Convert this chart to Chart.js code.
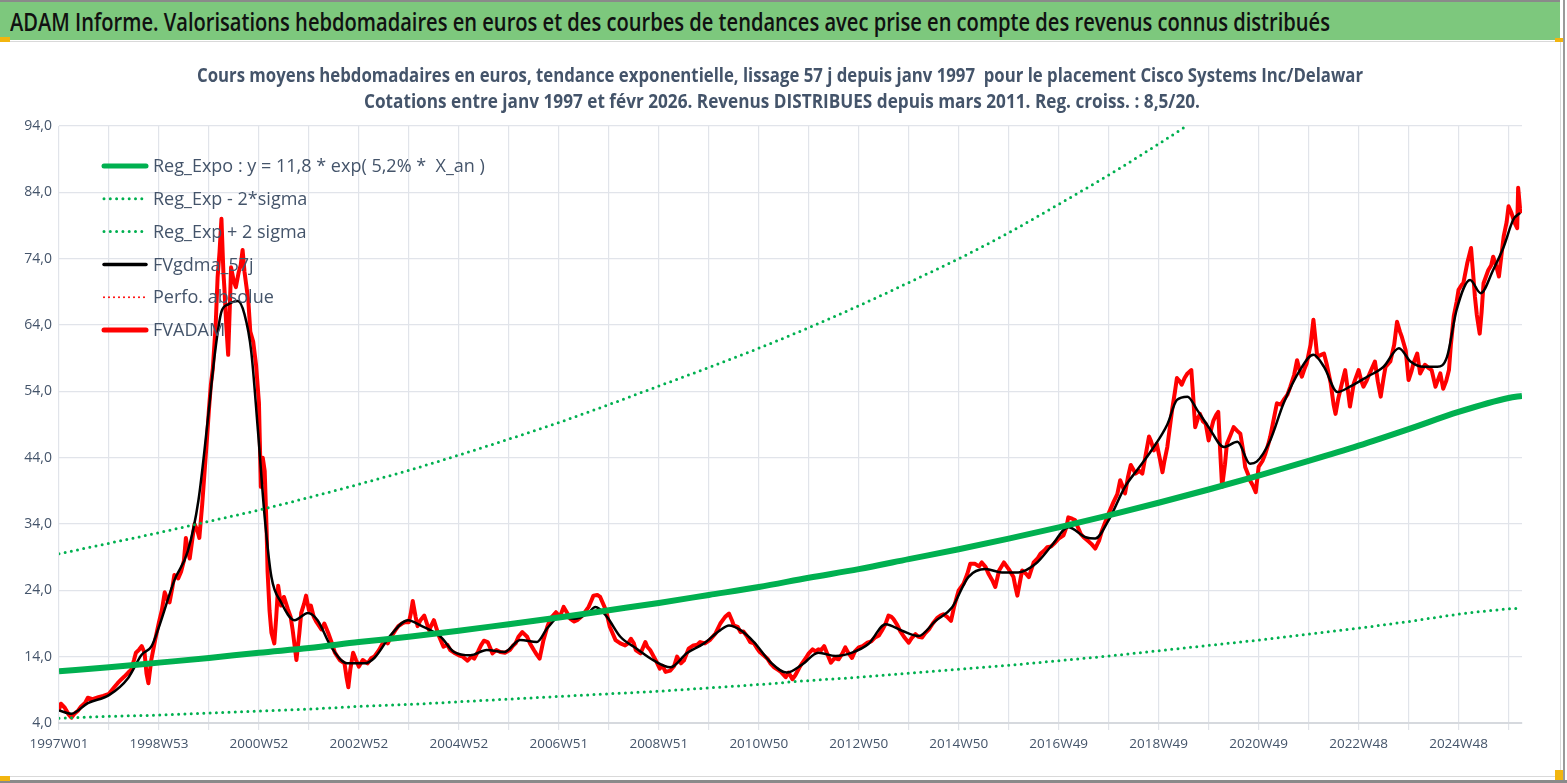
<!DOCTYPE html>
<html>
<head>
<meta charset="utf-8">
<script src="https://cdn.jsdelivr.net/npm/chart.js@4.4.9/dist/chart.umd.min.js"></script>
<style>
  html, body { margin: 0; padding: 0; background: #fff; }
  body { width: 1567px; height: 783px; position: relative; overflow: hidden; }
  #myChart { position: absolute; left: 0; top: 0; }
  .narrow { font-family: "Liberation Sans Narrow", "Open Sans", sans-serif; white-space: nowrap; position: absolute; transform-origin: 0 50%; }
  #header { position: absolute; left: 0; top: 0; width: 1560px; height: 38px; background: #7dc87d; border-top: 2px solid #8a8a8a; }
  #frame { position: absolute; left: 0; top: 41px; width: 1560px; height: 734px; border: 1px solid #d9d9d9; border-left: none; }
  #bottomLine { position: absolute; left: 0; top: 780px; width: 1567px; height: 3px; background: #8a8a8a; }
  #rightLine { position: absolute; left: 1563px; top: 0; width: 2px; height: 783px; background: #9a9a9a; }
  .handle { position: absolute; background: #f2b50f; }
</style>
</head>
<body>
<canvas id="myChart" width="1567" height="783"></canvas>
<div id="frame"></div>
<div id="header"></div>
<div id="rightLine"></div>
<div id="bottomLine"></div>
<div class="handle" style="left:0;top:37px;width:10px;height:5px"></div>
<div class="handle" style="left:1555px;top:38px;width:8px;height:4px"></div>
<div class="handle" style="left:1555px;top:770px;width:8px;height:10px"></div>
<div class="handle" style="left:0;top:776px;width:10px;height:5px"></div>
<div id="mainTitle" class="narrow" style="left:10px;top:4px;font-size:25px;font-weight:600;color:#111">ADAM Informe. Valorisations hebdomadaires en euros et des courbes de tendances avec prise en compte des revenus connus distribués</div>
<div id="sub1" class="narrow" style="left:197px;top:61px;font-size:20px;font-weight:bold;color:#44546a">Cours moyens hebdomadaires en euros, tendance exponentielle, lissage 57 j depuis janv 1997&nbsp; pour le placement Cisco Systems Inc/Delawar</div>
<div id="sub2" class="narrow" style="left:364px;top:87px;font-size:20px;font-weight:bold;color:#44546a">Cotations entre janv 1997 et févr 2026. Revenus DISTRIBUES depuis mars 2011. Reg. croiss. : 8,5/20.</div>
<script>
// tick labels of the category axis, one every 104 weeks
const xTickLabels = ["1997W01", "1998W53", "2000W52", "2002W52", "2004W52", "2006W51", "2008W51", "2010W50", "2012W50", "2014W50", "2016W49", "2018W49", "2020W49", "2022W48", "2024W48"];

// week index (0 = 1997W01) of the trend points, one per year
const trendWeeks = [0, 52, 104, 156, 208, 260, 312, 364, 416, 468, 520, 572, 624, 676, 728, 780, 832, 884, 936, 988, 1040, 1092, 1144, 1196, 1248, 1300, 1352, 1404, 1456, 1508, 1522];

const regExpo = [11.8, 12.4, 13.1, 13.8, 14.6, 15.3, 16.2, 17.0, 17.9, 18.9, 19.9, 21.0, 22.1, 23.3, 24.5, 25.9, 27.2, 28.7, 30.2, 31.8, 33.5, 35.3, 37.2, 39.2, 41.3, 43.5, 45.8, 48.3, 50.9, 53.0, 53.3];
const regExpMinus = [4.7, 5.0, 5.2, 5.5, 5.8, 6.1, 6.5, 6.8, 7.2, 7.6, 8.0, 8.4, 8.8, 9.3, 9.8, 10.4, 10.9, 11.5, 12.1, 12.7, 13.4, 14.1, 14.9, 15.7, 16.5, 17.4, 18.3, 19.3, 20.4, 21.2, 21.3];
const regExpPlus = [29.5, 31.1, 32.7, 34.4, 36.1, 38.0, 40.0, 42.1, 44.4, 46.8, 49.3, 52.0, 54.8, 57.6, 60.5, 63.6, 66.9, 70.4, 74.0, 77.9, 82.2, 86.6, 91.3, 96.2];

// FVgdma_57j : [week, value]
const fvgdma = [[0,5.9],[13,5.4],[30,7.0],[52,8.2],[72,10.8],[86,14.3],[96,15.5],[104,18.5],[120,25.5],[134,29.9],[145,37.5],[155,50.0],[162,59.5],[169,66.0],[176,67.1],[186,67.6],[193,65.6],[200,60.0],[207,48.0],[214,35.0],[221,26.0],[231,22.2],[245,19.5],[259,20.6],[269,19.5],[283,15.5],[300,13.0],[318,13.0],[328,13.8],[346,17.4],[363,19.5],[376,18.7],[397,17.0],[411,14.7],[428,14.2],[445,15.0],[463,14.7],[480,16.5],[497,16.2],[508,18.3],[521,20.0],[536,19.7],[550,20.5],[558,21.5],[570,20.0],[584,17.0],[601,15.2],[619,13.4],[636,12.4],[653,14.5],[671,16.0],[688,18.0],[697,18.7],[709,18.0],[723,16.2],[740,13.2],[757,11.6],[773,12.8],[790,14.6],[808,14.1],[825,14.6],[842,15.9],[860,18.9],[877,17.9],[894,17.1],[912,19.4],[929,21.4],[946,26.0],[964,27.2],[981,26.7],[998,26.7],[1016,28.0],[1033,30.8],[1050,33.5],[1068,32.0],[1078,31.8],[1092,34.6],[1109,39.6],[1123,42.4],[1137,45.2],[1153,49.0],[1163,52.7],[1174,53.2],[1184,51.2],[1196,48.6],[1212,45.6],[1226,46.4],[1239,43.1],[1246,43.4],[1260,46.6],[1274,52.2],[1291,57.2],[1305,59.5],[1316,57.7],[1330,53.9],[1343,54.7],[1361,56.2],[1378,57.7],[1394,60.5],[1406,58.5],[1420,57.7],[1434,57.7],[1444,59.2],[1454,66.3],[1468,70.8],[1479,68.8],[1492,72.3],[1503,75.8],[1513,79.9],[1520,80.9]];

// FVADAM : [week, value]
const fvadam = [
  [0,6.0],[2,6.9],[6,6.3],[10,5.3],[13,4.8],[16,5.4],[20,5.9],[23,6.5],[27,7.0],[30,7.8],[35,7.6],[41,7.9],[46,8.1],[52,8.4],[57,9.3],[61,10.0],[65,10.6],[68,11.0],[72,11.6],[75,12.0],[78,13.5],[80,14.6],[83,15.0],[86,15.6],[89,14.6],[91,11.5],[93,10.0],[96,13.5],[100,16.5],
  [104,19.2],[107,21.0],[110,23.7],[113,22.5],[115,22.2],[118,24.5],[120,26.3],[124,25.8],[127,26.8],[130,28.5],[132,31.9],[134,30.0],[136,28.8],[139,32.0],[141,34.0],[144,33.0],[146,31.9],[149,37.0],[152,43.0],[154,47.0],
  [156,51.3],[158,55.0],[160,57.4],[163,64.0],[165,71.2],[167,75.0],[169,80.0],[171,72.0],[172,69.7],[174,64.0],[176,59.5],[178,68.0],[179,72.7],[182,70.5],[184,69.7],[187,72.0],[189,73.0],[191,75.3],[193,72.0],[197,67.6],[199,63.0],[202,61.5],[205,58.0],
  [208,52.3],[210,39.6],[212,44.0],[214,42.0],[216,33.0],[217,26.8],[219,21.0],[221,17.6],[224,16.0],[226,20.0],[228,24.7],[231,21.7],[234,23.0],[238,21.2],[241,20.0],[243,18.1],[247,13.5],[250,17.5],[252,20.6],[255,22.0],[257,23.2],
  [260,21.0],[262,21.7],[265,20.0],[268,19.2],[273,18.1],[276,19.0],[280,17.6],[284,16.0],[287,14.6],[292,13.5],[297,13.0],[299,11.0],[301,9.4],[303,12.0],[306,14.6],[309,13.5],
  [312,12.5],[316,13.5],[321,13.0],[325,13.8],[328,14.0],[333,15.0],[339,16.6],[342,16.0],[346,17.1],[350,18.0],[353,18.6],[357,19.0],[360,19.2],
  [364,19.2],[366,20.5],[368,22.4],[371,20.0],[373,18.6],[376,19.5],[380,20.2],[385,18.0],[390,19.5],[395,17.2],[400,15.5],[404,15.8],[407,15.0],[411,14.6],
  [416,14.2],[420,14.0],[425,13.4],[429,14.0],[432,13.7],[436,14.8],[439,15.7],[442,16.4],[446,16.2],[451,14.5],[455,15.0],[459,14.7],[464,14.6],
  [469,15.0],[472,15.6],[475,16.0],[478,17.0],[482,17.7],[487,17.0],[490,16.0],[494,15.0],[497,14.3],[500,13.7],[504,16.5],[508,18.5],[511,19.7],[517,20.7],
  [521,20.0],[525,21.5],[529,20.5],[532,19.7],[536,19.3],[539,19.5],[543,20.0],[546,20.5],[551,21.5],[554,22.5],[556,23.2],[560,23.3],[563,23.0],[566,22.0],[569,21.0],
  [573,18.5],[576,17.5],[579,16.5],[584,16.0],[589,15.7],[592,16.0],[595,16.7],[598,16.0],[600,15.0],[605,14.5],[610,16.2],[612,15.5],[615,15.0],[621,13.4],
  [625,12.2],[628,12.6],[631,11.7],[636,11.9],[640,12.6],[643,14.0],[647,13.0],[650,13.4],[655,15.2],[660,15.7],[664,15.8],[667,16.2],[672,16.0],
  [677,16.5],[683,17.5],[688,19.0],[693,20.0],[697,20.5],[700,19.5],[702,18.7],[706,18.5],[709,17.7],[712,17.8],[716,17.0],[719,16.2],[723,16.0],[726,15.3],
  [729,14.7],[733,14.2],[737,13.7],[740,13.0],[744,12.4],[748,12.0],[751,11.7],[756,10.9],[759,11.6],[763,10.6],[766,11.2],[770,12.3],[773,13.0],[777,13.8],
  [780,14.5],[784,15.1],[787,14.8],[790,15.1],[793,15.0],[796,15.6],[799,14.5],[803,13.1],[807,13.8],[811,13.6],[815,14.5],[818,15.4],[821,14.6],[825,13.8],[828,14.8],
  [832,15.4],[836,15.6],[841,16.1],[845,16.3],[849,16.9],[853,17.2],[856,17.9],[860,19.0],[863,20.2],[866,20.0],[868,19.7],[872,18.8],[875,17.9],[879,17.0],
  [884,16.1],[887,16.8],[891,17.4],[894,17.0],[898,16.9],[901,17.5],[905,18.1],[909,19.0],[914,19.9],[917,20.2],[920,20.4],[924,20.0],[928,19.4],[931,21.4],[934,23.0],
  [936,24.0],[941,25.0],[945,26.5],[948,28.0],[953,28.0],[957,27.6],[960,28.2],[964,27.5],[967,26.5],[971,25.5],[974,24.5],[978,27.0],[983,28.2],
  [988,27.2],[993,26.0],[995,24.5],[997,23.2],[1000,25.5],[1002,27.0],[1006,26.5],[1009,26.0],[1014,28.2],[1018,28.8],[1021,29.5],[1025,30.0],[1028,30.5],[1032,30.6],[1035,31.0],
  [1040,31.8],[1045,32.3],[1048,33.5],[1050,35.0],[1054,34.8],[1057,34.6],[1060,33.5],[1063,32.5],[1066,32.0],[1070,31.5],[1074,31.0],[1078,30.3],[1082,31.5],[1085,33.0],[1089,34.5],
  [1092,35.6],[1097,37.3],[1101,38.5],[1104,40.6],[1107,39.5],[1109,38.6],[1112,41.0],[1115,42.9],[1120,41.6],[1124,42.0],[1127,41.6],[1130,44.0],[1134,47.2],[1136,46.5],[1139,45.1],[1142,46.1],
  [1145,44.0],[1148,41.8],[1150,43.5],[1153,45.6],[1156,49.0],[1158,51.2],[1161,54.0],[1163,56.0],[1166,55.5],[1168,55.0],[1171,56.0],[1174,56.7],[1178,57.2],[1180,53.0],[1182,48.6],[1185,50.0],[1187,50.6],[1190,49.5],[1193,49.1],
  [1196,46.6],[1199,48.5],[1201,49.6],[1204,50.5],[1206,50.9],[1208,45.0],[1210,39.6],[1213,43.0],[1215,46.1],[1219,47.5],[1222,48.6],[1226,48.0],[1229,47.6],[1232,45.0],[1234,42.6],[1237,41.5],[1239,40.6],[1242,39.8],[1245,38.8],
  [1248,42.6],[1252,43.5],[1255,44.6],[1258,46.0],[1260,47.1],[1264,50.0],[1267,52.2],[1271,52.0],[1274,52.7],[1278,53.5],[1281,54.7],[1285,56.5],[1288,58.7],[1291,57.0],[1293,56.2],[1296,57.5],[1298,58.2],
  [1302,61.0],[1305,64.8],[1307,62.0],[1309,59.2],[1313,59.5],[1316,59.7],[1319,58.0],[1323,55.2],[1326,52.0],[1328,50.6],[1331,53.0],[1333,54.2],[1336,56.0],[1338,57.2],[1341,54.0],[1343,51.7],[1347,55.2],
  [1352,57.2],[1355,55.5],[1357,54.7],[1360,55.5],[1362,56.2],[1366,57.5],[1369,58.5],[1372,55.5],[1375,53.2],[1378,56.0],[1380,57.7],[1385,58.5],[1389,61.0],[1392,64.5],[1395,63.0],[1397,62.2],[1401,60.2],
  [1404,55.7],[1407,57.0],[1409,58.2],[1413,59.7],[1416,56.7],[1419,57.5],[1421,58.0],[1425,57.5],[1428,57.2],[1432,54.7],[1434,55.5],[1437,56.7],[1440,54.4],[1443,55.5],[1446,57.2],[1448,61.0],[1451,65.3],[1454,67.5],
  [1456,69.3],[1459,70.0],[1461,70.3],[1465,73.3],[1469,75.6],[1471,72.0],[1473,68.3],[1475,65.5],[1478,62.7],[1480,66.0],[1482,70.3],[1485,71.5],[1487,72.3],[1490,73.0],[1492,74.3],[1495,73.0],[1498,71.3],[1501,75.0],[1503,77.4],[1506,79.5],
  [1508,81.9],[1511,80.9],[1514,79.5],[1517,78.6],[1518,84.7],[1520,81.5],[1522,80.9]
];

const GREEN = "#00b050";
const TEXT = "#44546a";
const FONT = "'Liberation Sans Narrow', 'Open Sans', sans-serif";

function toXY(weeks, values) {
  return values.map((v, i) => ({ x: weeks[i], y: v }));
}
function pairs(list) {
  return list.map((p) => ({ x: p[0], y: p[1] }));
}

// squeeze html text to the width it has in the reference
function fitWidth(id, target) {
  const $el = document.getElementById(id);
  const w = $el.getBoundingClientRect().width;
  $el.style.transform = "scaleX(" + (target / w) + ")";
}
fitWidth("mainTitle", 1320);
fitWidth("sub1", 1166);
fitWidth("sub2", 836);

const insideLegend = {
  id: "insideLegend",
  afterDatasetsDraw(chart) {
    const ctx = chart.ctx;
    ctx.save();
    let size = 18;
    ctx.font = size + "px " + FONT;
    const w0 = ctx.measureText(chart.data.datasets[0].label).width;
    size = size * 332 / w0;
    ctx.font = size + "px " + FONT;
    chart.data.datasets.forEach((ds, i) => {
      const y = 166 + i * 32.8;
      ctx.beginPath();
      ctx.strokeStyle = ds.borderColor;
      ctx.lineWidth = ds.legendWidth || ds.borderWidth;
      ctx.setLineDash(ds.borderDash || []);
      ctx.lineCap = "round";
      ctx.moveTo(104, y);
      ctx.lineTo(146, y);
      ctx.stroke();
      ctx.setLineDash([]);
      ctx.fillStyle = TEXT;
      ctx.textBaseline = "middle";
      ctx.fillText(ds.label, 153, y + 1);
    });
    ctx.restore();
  },
};

const dotted = { borderDash: [0, 6.3], borderCapStyle: "round", borderWidth: 3 };

new Chart(document.getElementById("myChart"), {
  type: "line",
  data: {
    datasets: [
      { label: "Reg_Expo : y = 11,8 * exp( 5,2% *  X_an )", data: toXY(trendWeeks, regExpo), borderColor: GREEN, borderWidth: 6, legendWidth: 5, cubicInterpolationMode: "monotone" },
      { label: "Reg_Exp - 2*sigma", data: toXY(trendWeeks, regExpMinus), borderColor: GREEN, ...dotted, cubicInterpolationMode: "monotone" },
      { label: "Reg_Exp + 2 sigma", data: toXY(trendWeeks, regExpPlus), borderColor: GREEN, ...dotted, cubicInterpolationMode: "monotone" },
      { label: "FVgdma_57j", data: pairs(fvgdma), borderColor: "#000000", borderWidth: 2.5, legendWidth: 3.5, cubicInterpolationMode: "monotone" },
      { label: "Perfo. absolue", data: [], borderColor: "#ff0000", borderDash: [0, 5], borderCapStyle: "round", borderWidth: 2 },
      { label: "FVADAM", data: pairs(fvadam), borderColor: "#ff0000", borderWidth: 4, legendWidth: 5, borderJoinStyle: "round" },
    ],
  },
  options: {
    responsive: false,
    animation: false,
    parsing: false,
    elements: { point: { radius: 0 }, line: { tension: 0 } },
    layout: { padding: { top: 126, left: 0, right: 45, bottom: 20 } },
    plugins: { legend: { display: false }, tooltip: { enabled: false } },
    scales: {
      x: {
        type: "linear",
        min: 0,
        max: 1522,
        afterBuildTicks(scale) {
          const ticks = [];
          for (let w = 0; w <= 1508; w += 52) ticks.push({ value: w });
          scale.ticks = ticks;
        },
        afterFit(scale) { scale.height = 40; },
        ticks: {
          autoSkip: false,
          maxRotation: 0,
          padding: 6,
          color: TEXT,
          font: { family: FONT, size: 13.5 },
          callback: (v) => (v % 104 === 0 ? xTickLabels[v / 104] : ""),
        },
        grid: { color: "#e1e4ea", lineWidth: 1.2, tickLength: 7 },
        border: { color: "#d6d9de", width: 2 },
      },
      y: {
        min: 4,
        max: 94,
        afterFit(scale) { scale.width = 59; },
        ticks: {
          stepSize: 10,
          padding: 7,
          color: TEXT,
          font: { family: FONT, size: 14 },
          callback: (v) => v.toFixed(1).replace(".", ","),
        },
        grid: { color: "#e1e4ea", lineWidth: 1.2, drawTicks: false },
        border: { display: false },
      },
    },
  },
  plugins: [insideLegend],
});
</script>
</body>
</html>
